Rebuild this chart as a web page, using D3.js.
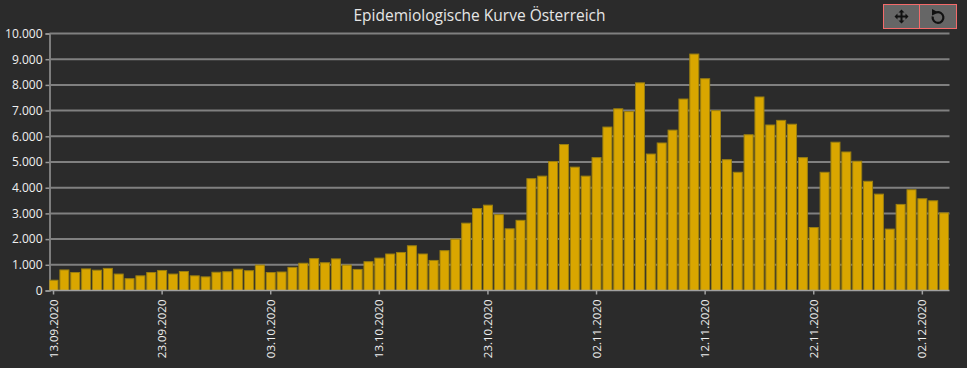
<!DOCTYPE html>
<html>
<head>
<meta charset="utf-8">
<script src="https://d3js.org/d3.v7.min.js"></script>
<style>
  html, body { margin: 0; padding: 0; background: #2b2b2b; overflow: hidden; }
  text { font-family: "Open Sans", sans-serif; }
</style>
</head>
<body>
<div id="chart"></div>
<script>
const title = "Epidemiologische Kurve Österreich";

const dates = [
  "13.09.2020","14.09.2020","15.09.2020","16.09.2020","17.09.2020","18.09.2020","19.09.2020","20.09.2020","21.09.2020",
  "22.09.2020","23.09.2020","24.09.2020","25.09.2020","26.09.2020","27.09.2020","28.09.2020","29.09.2020","30.09.2020",
  "01.10.2020","02.10.2020","03.10.2020","04.10.2020","05.10.2020","06.10.2020","07.10.2020","08.10.2020","09.10.2020",
  "10.10.2020","11.10.2020","12.10.2020","13.10.2020","14.10.2020","15.10.2020","16.10.2020","17.10.2020","18.10.2020",
  "19.10.2020","20.10.2020","21.10.2020","22.10.2020","23.10.2020","24.10.2020","25.10.2020","26.10.2020","27.10.2020",
  "28.10.2020","29.10.2020","30.10.2020","31.10.2020","01.11.2020","02.11.2020","03.11.2020","04.11.2020","05.11.2020",
  "06.11.2020","07.11.2020","08.11.2020","09.11.2020","10.11.2020","11.11.2020","12.11.2020","13.11.2020","14.11.2020",
  "15.11.2020","16.11.2020","17.11.2020","18.11.2020","19.11.2020","20.11.2020","21.11.2020","22.11.2020","23.11.2020",
  "24.11.2020","25.11.2020","26.11.2020","27.11.2020","28.11.2020","29.11.2020","30.11.2020","01.12.2020","02.12.2020",
  "03.12.2020","04.12.2020"
];

const cases = [
  400, 800, 700, 840, 790, 860, 640, 460, 570,
  700, 780, 640, 740, 570, 530, 710, 730, 830,
  770, 990, 700, 720, 900, 1060, 1240, 1080, 1230,
  990, 820, 1120, 1260, 1420, 1480, 1740, 1420, 1170,
  1550, 2000, 2620, 3190, 3320, 2950, 2400, 2730, 4350,
  4450, 5020, 5680, 4800, 4450, 5170, 6360, 7070, 6960,
  8080, 5310, 5740, 6240, 7450, 9200, 8240, 7000, 5090,
  4600, 6060, 7530, 6440, 6620, 6470, 5170, 2450, 4600,
  5770, 5390, 5030, 4250, 3750, 2390, 3350, 3920, 3570,
  3490, 3020
];

const xTickLabels = ["13.09.2020","23.09.2020","03.10.2020","13.10.2020","23.10.2020","02.11.2020","12.11.2020","22.11.2020","02.12.2020"];
const yTicks = [0, 1000, 2000, 3000, 4000, 5000, 6000, 7000, 8000, 9000, 10000];

const W = 967, H = 368;
const plotLeft = 49.5, plotRight = 949.5, plotTop = 33.5, plotBottom = 290.5;

const svg = d3.select("#chart").append("svg")
  .attr("width", W).attr("height", H)
  .style("display", "block")
  .style("background", "#2b2b2b");

const x = d3.scaleBand().domain(dates).range([48.1, plotRight]).paddingInner(0.17).paddingOuter(0.085);
const y = d3.scaleLinear().domain([0, 10000]).range([plotBottom, plotTop]);
const fmt = d => String(d).replace(/\B(?=(\d{3})+$)/g, ".");

svg.append("text")
  .attr("x", 479.5).attr("y", 21)
  .attr("text-anchor", "middle")
  .attr("fill", "#e6e6e6").attr("font-size", "15.5px")
  .text(title);

// gridlines + y labels
const yAxis = svg.append("g")
  .attr("transform", `translate(${plotLeft},0)`)
  .call(d3.axisLeft(y).tickValues(yTicks).tickFormat(fmt)
    .tickSize(4).tickPadding(3));
yAxis.select(".domain").attr("stroke", "#999").attr("stroke-width", 1.5);
yAxis.selectAll(".tick line").attr("stroke", "#999").attr("stroke-width", 1.5);
yAxis.selectAll(".tick text").attr("fill", "#f0f0f0").attr("font-size", "12px")
  .attr("font-family", "'Open Sans', sans-serif");

svg.append("g").selectAll("line")
  .data(yTicks.slice(1))
  .join("line")
    .attr("x1", plotLeft).attr("x2", plotRight)
    .attr("y1", d => y(d)).attr("y2", d => y(d))
    .attr("stroke", "#808080").attr("stroke-width", 2);

// bars, first one is cut by the plot edge
svg.append("clipPath").attr("id", "plot-clip").append("rect")
  .attr("x", plotLeft).attr("y", 0)
  .attr("width", plotRight - plotLeft).attr("height", plotBottom);

svg.append("g").attr("clip-path", "url(#plot-clip)")
  .selectAll("rect")
  .data(dates)
  .join("rect")
    .attr("x", d => x(d))
    .attr("width", x.bandwidth())
    .attr("y", (d, i) => y(cases[i]))
    .attr("height", (d, i) => plotBottom - y(cases[i]))
    .attr("fill", "#d9a600")
    .attr("stroke", "#9a7f10").attr("stroke-width", 1);

// x axis
const xAxis = svg.append("g")
  .attr("transform", `translate(0,${plotBottom})`)
  .call(d3.axisBottom(x).tickValues(xTickLabels).tickSize(4).tickSizeOuter(0));
xAxis.select(".domain").attr("stroke", "#a0a0a0").attr("stroke-width", 1.5)
  .attr("d", `M${plotLeft},0H${plotRight}`);
xAxis.selectAll(".tick line").attr("stroke", "#a0a0a0").attr("stroke-width", 1.5);
xAxis.selectAll(".tick text")
  .attr("fill", "#f0f0f0").attr("font-size", "11.5px")
  .attr("font-family", "'Open Sans', sans-serif")
  .attr("text-anchor", "end")
  .attr("transform", "rotate(-90)")
  .attr("x", -9).attr("y", 0).attr("dy", "0.35em");

// toolbar buttons
const toolbar = svg.append("g");
toolbar.append("rect").attr("x", 883.5).attr("y", 4.5).attr("width", 73).attr("height", 24)
  .attr("fill", "#666").attr("stroke", "#f46a6a").attr("stroke-width", 1);
toolbar.append("line").attr("x1", 919.5).attr("x2", 919.5).attr("y1", 4.5).attr("y2", 28.5)
  .attr("stroke", "#f46a6a");

// move icon
toolbar.append("path")
  .attr("transform", "translate(901.5,16.5)")
  .attr("fill", "#111")
  .attr("d", "M0,-7L3,-4H1V-1H4V-3L7,0L4,3V1H1V4H3L0,7L-3,4H-1V1H-4V3L-7,0L-4,-3V-1H-1V-4H-3Z");

// reload icon
const arc = d3.arc().innerRadius(4.3).outerRadius(6.5).startAngle(-0.35).endAngle(4.9);
toolbar.append("path").attr("transform", "translate(938,17.5)").attr("fill", "#111").attr("d", arc());
toolbar.append("path").attr("transform", "translate(938,17.5)").attr("fill", "#111")
  .attr("d", "M-6,-8.5L-6,-2L0.5,-5Z");
</script>
</body>
</html>
